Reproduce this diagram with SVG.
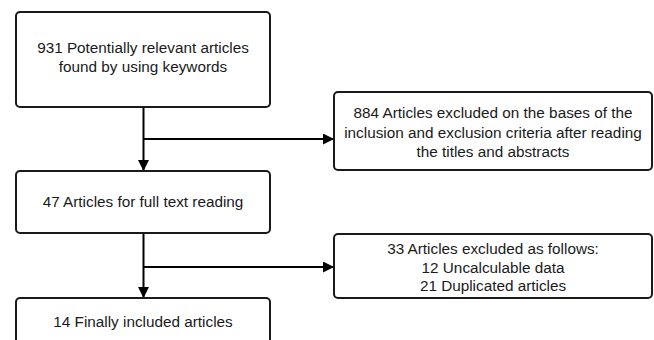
<svg xmlns="http://www.w3.org/2000/svg" width="654" height="340" viewBox="0 0 654 340">
<defs>
<style>
.box{fill:#fff;stroke:#1a1a1a;stroke-width:2}
.t{font-family:"Liberation Sans",Arial,sans-serif;font-size:15.3px;fill:#1a1a1a;text-anchor:middle}
.c{fill:none;stroke:#000;stroke-width:2}
</style>
<marker id="ah" viewBox="0 0 10 10" refX="10" refY="5" markerWidth="5.5" markerHeight="5.5" markerUnits="strokeWidth" orient="auto">
<path d="M0,0 L10,5 L0,10 z" fill="#000"/>
</marker>
</defs>
<rect width="654" height="340" fill="#fff"/>
<g id="connectors">
<path class="c" d="M143.5,107 V171" marker-end="url(#ah)"/>
<path class="c" d="M143.5,139 H334" marker-end="url(#ah)"/>
<path class="c" d="M143.5,233 V298" marker-end="url(#ah)"/>
<path class="c" d="M143.5,267 H334" marker-end="url(#ah)"/>
</g>
<g id="n1">
<rect class="box" x="16" y="12" width="254" height="95" rx="4"/>
<text class="t" x="143" y="53">931 Potentially relevant articles</text>
<text class="t" x="143" y="72">found by using keywords</text>
</g>
<g id="n2">
<rect class="box" x="334" y="92" width="318" height="78" rx="4"/>
<text class="t" x="493" y="118">884 Articles excluded on the bases of the</text>
<text class="t" x="493" y="138">inclusion and exclusion criteria after reading</text>
<text class="t" x="493" y="157">the titles and abstracts</text>
</g>
<g id="n3">
<rect class="box" x="16" y="171" width="254" height="62" rx="4"/>
<text class="t" x="143" y="207">47 Articles for full text reading</text>
</g>
<g id="n4">
<rect class="box" x="334" y="234" width="318" height="64" rx="4"/>
<text class="t" x="493" y="254">33 Articles excluded as follows:</text>
<text class="t" x="493" y="273">12 Uncalculable data</text>
<text class="t" x="493" y="291">21 Duplicated articles</text>
</g>
<g id="n5">
<rect class="box" x="16" y="298" width="254" height="60" rx="4"/>
<text class="t" x="143" y="327">14 Finally included articles</text>
</g>
</svg>
